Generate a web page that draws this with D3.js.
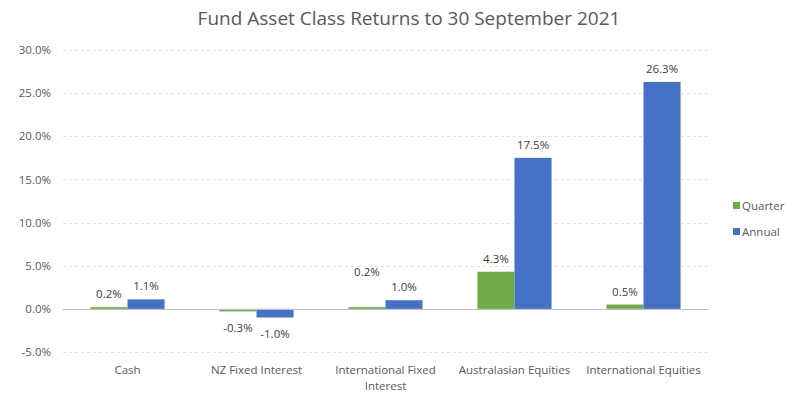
<!DOCTYPE html>
<html>
<head>
<meta charset="utf-8">
<script src="https://cdn.jsdelivr.net/npm/d3@7"></script>
<style>
  body { margin: 0; background: #fff; }
  svg text { font-family: "Open Sans", "Noto Sans", sans-serif; }
</style>
</head>
<body>
<div id="chart"></div>
<script>
var categories = ["Cash", "NZ Fixed Interest", "International Fixed Interest", "Australasian Equities", "International Equities"];
var seriesNames = ["Quarter", "Annual"];
var quarter = [0.2, -0.3, 0.2, 4.3, 0.5];
var annual = [1.1, -1.0, 1.0, 17.5, 26.3];
var yTicks = [-5, 0, 5, 10, 15, 20, 25, 30];
var colors = ["#70AD47", "#4472C4"];

function load(){
  var width = 800, height = 396;
  var left = 63, right = 708, top = 50, bottom = 352;

  var svg = d3.select("#chart").append("svg")
    .attr("width", width)
    .attr("height", height);

  svg.append("text")
    .attr("x", 409).attr("y", 25)
    .attr("text-anchor", "middle")
    .attr("fill", "#595959")
    .style("font-size", "19px")
    .text("Fund Asset Class Returns to 30 September 2021");

  var y = d3.scaleLinear().domain([-5, 30]).range([bottom, top]);
  var x = d3.scaleBand().domain(categories).range([left, right]).paddingInner(0).paddingOuter(0);
  var xs = d3.scaleBand().domain(seriesNames).range([0, x.bandwidth()]).paddingInner(0).paddingOuter(0.74);

  // gridlines
  svg.append("g").selectAll("line")
    .data(yTicks.filter(function(t){ return t !== 0; }))
    .enter().append("line")
    .attr("x1", left).attr("x2", right)
    .attr("y1", function(d){ return Math.round(y(d)) + 0.5; })
    .attr("y2", function(d){ return Math.round(y(d)) + 0.5; })
    .attr("stroke", "#e3e3e3")
    .attr("stroke-dasharray", "3,3");

  // y labels
  var yAxis = d3.axisLeft(y).tickValues(yTicks).tickSize(0).tickPadding(0)
    .tickFormat(function(d){ return d.toFixed(1) + "%"; });
  var ga = svg.append("g").attr("transform", "translate(51,0)").call(yAxis);
  ga.select(".domain").remove();
  ga.selectAll("text").attr("fill", "#595959").style("font-size", "11.5px")
    .style("font-family", "'Open Sans', sans-serif");

  var rows = categories.map(function(c, i){
    return [{cat: c, s: "Quarter", v: quarter[i], idx: i}, {cat: c, s: "Annual", v: annual[i], idx: i}];
  });

  var groups = svg.append("g").selectAll("g")
    .data(rows).enter().append("g")
    .attr("transform", function(d){ return "translate(" + x(d[0].cat) + ",0)"; });

  groups.selectAll("rect")
    .data(function(d){ return d; })
    .enter().append("rect")
    .attr("x", function(d){ return xs(d.s); })
    .attr("width", xs.bandwidth())
    .attr("y", function(d){ return y(Math.max(0, d.v)); })
    .attr("height", function(d){ return Math.abs(y(d.v) - y(0)); })
    .attr("fill", function(d, i){ return colors[i]; });

  // labels (the International Fixed Interest quarter label is lifted in the original)
  groups.selectAll("text.lbl")
    .data(function(d){ return d; })
    .enter().append("text")
    .attr("class", "lbl")
    .attr("x", function(d){ return xs(d.s) + xs.bandwidth() / 2; })
    .attr("y", function(d){
      var yy = d.v >= 0 ? y(d.v) - 9 : y(d.v) + 21;
      if (d.idx === 2 && d.s === "Quarter") yy -= 22;
      return yy;
    })
    .attr("text-anchor", "middle")
    .attr("fill", "#404040")
    .style("font-size", "11.5px")
    .text(function(d){ return d.v.toFixed(1) + "%"; });

  // zero line
  svg.append("line")
    .attr("x1", left).attr("x2", right)
    .attr("y1", Math.round(y(0)) + 0.5).attr("y2", Math.round(y(0)) + 0.5)
    .attr("stroke", "#bfbfbf").attr("stroke-width", 1.2);

  // x labels
  var xl = svg.append("g").selectAll("text")
    .data(categories).enter().append("text")
    .attr("text-anchor", "middle")
    .attr("fill", "#595959")
    .style("font-size", "11.5px")
    .attr("transform", function(d){ return "translate(" + (x(d) + x.bandwidth() / 2) + ",374)"; });
  xl.each(function(d){
    var t = d3.select(this);
    var lines = d === "International Fixed Interest" ? ["International Fixed", "Interest"] : [d];
    lines.forEach(function(l, k){
      t.append("tspan").attr("x", 0).attr("dy", k === 0 ? 0 : 16).text(l);
    });
  });

  // legend
  var lg = svg.append("g").selectAll("g")
    .data(seriesNames).enter().append("g")
    .attr("transform", function(d, i){ return "translate(733," + (206 + i * 26) + ")"; });
  lg.append("rect").attr("x", 0).attr("y", -4).attr("width", 7).attr("height", 7)
    .attr("fill", function(d, i){ return colors[i]; });
  lg.append("text").attr("x", 9).attr("y", 4)
    .attr("fill", "#595959").style("font-size", "11.5px")
    .text(function(d){ return d; });
}

load();
</script>
</body>
</html>
